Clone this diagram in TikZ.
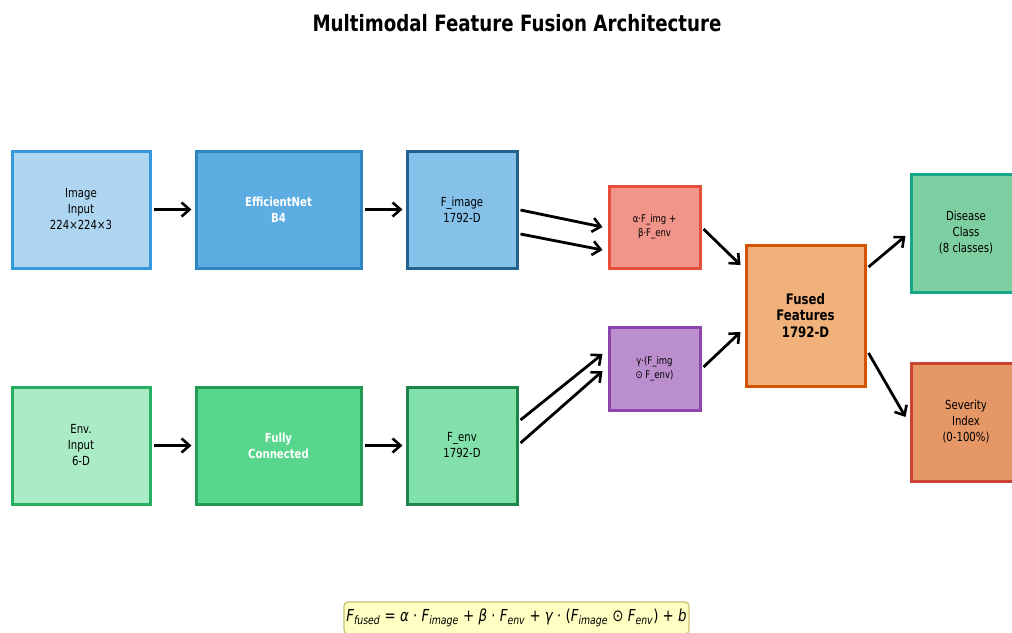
\documentclass[tikz,border=0pt]{standalone}
\usepackage{fontspec}
\setmainfont{DejaVu Sans}[FakeStretch=0.81]
\usetikzlibrary{arrows.meta,calc}

\definecolor{imgfill}{HTML}{AED6F1}\definecolor{imgline}{HTML}{3498DB}
\definecolor{efffill}{HTML}{5DADE2}\definecolor{effline}{HTML}{2E86C1}
\definecolor{fimgfill}{HTML}{85C1E9}\definecolor{fimgline}{HTML}{21618C}
\definecolor{envfill}{HTML}{ABEBC6}\definecolor{envline}{HTML}{27AE60}
\definecolor{fcfill}{HTML}{58D68D}\definecolor{fcline}{HTML}{239B56}
\definecolor{fenvfill}{HTML}{82E0AA}\definecolor{fenvline}{HTML}{1E8449}
\definecolor{addfill}{HTML}{F1948A}\definecolor{addline}{HTML}{E74C3C}
\definecolor{mulfill}{HTML}{BB8FCE}\definecolor{mulline}{HTML}{8E44AD}
\definecolor{fusefill}{HTML}{F0B27A}\definecolor{fuseline}{HTML}{D35400}
\definecolor{disfill}{HTML}{7DCEA0}\definecolor{disline}{HTML}{17A589}
\definecolor{sevfill}{HTML}{E59866}\definecolor{sevline}{HTML}{CB4335}
\definecolor{eqfill}{HTML}{FFFFC4}\definecolor{eqline}{HTML}{C8C070}

\tikzset{
  block/.style={draw, rectangle, line width=3pt, align=center,
    font=\fontsize{12.5}{16}\selectfont, inner sep=0pt},
  smallblock/.style={block, font=\fontsize{10.5}{14}\selectfont},
  whitebold/.style={text=white, font=\fontsize{12.5}{16}\selectfont\bfseries},
  flow/.style={-{Straight Barb[length=8pt,width=14pt,line width=2.6pt]},
    line width=2.8pt, black},
}

\begin{document}
\begin{tikzpicture}[x=1pt,y=-1pt]
\clip (0,0) rectangle (1012,632);
\useasboundingbox (0,0) rectangle (1012,632);
\fill[white] (0,0) rectangle (1012,632);

\node[font=\fontsize{22.5}{26}\selectfont\bfseries] (title) at (517,23)
  {Multimodal Feature Fusion Architecture};

% image branch
\node[block, fill=imgfill, draw=imgline, minimum width=138pt, minimum height=117pt]
  (img) at (81,209.5) {Image\\Input\\224×224×3};
\node[block, whitebold, fill=efffill, draw=effline, minimum width=165pt, minimum height=117pt]
  (eff) at (278.5,209.5) {EfficientNet\\B4};
\node[block, fill=fimgfill, draw=fimgline, minimum width=110pt, minimum height=117pt]
  (fimg) at (462,209.5) {F\_image\\1792-D};

% environment branch
\node[block, fill=envfill, draw=envline, minimum width=138pt, minimum height=117pt]
  (env) at (81,445.5) {Env.\\Input\\6-D};
\node[block, whitebold, fill=fcfill, draw=fcline, minimum width=165pt, minimum height=117pt]
  (fc) at (278.5,445.5) {Fully\\Connected};
\node[block, fill=fenvfill, draw=fenvline, minimum width=110pt, minimum height=117pt]
  (fenv) at (462,445.5) {F\_env\\1792-D};

% fusion terms
\node[smallblock, fill=addfill, draw=addline, minimum width=91pt, minimum height=82pt]
  (add) at (654.5,227) {α·F\_img +\\β·F\_env};
\node[smallblock, fill=mulfill, draw=mulline, minimum width=91pt, minimum height=83pt]
  (mul) at (654.5,368.5) {γ·(F\_img\\⊙ F\_env)};

\node[block, fill=fusefill, draw=fuseline, minimum width=119pt, minimum height=141pt,
  font=\fontsize{14.5}{16.5}\selectfont\bfseries]
  (fused) at (805.5,315.5) {Fused\\Features\\1792-D};

% outputs
\node[block, fill=disfill, draw=disline, minimum width=110pt, minimum height=118pt]
  (dis) at (966,233) {Disease\\Class\\(8 classes)};
\node[block, fill=sevfill, draw=sevline, minimum width=110pt, minimum height=118pt]
  (sev) at (966,422) {Severity\\Index\\(0-100\%)};

% connectors
\draw[flow] ($(img.east)+(2,0)$) -- ($(eff.west)+(-3,0)$);
\draw[flow] ($(eff.east)+(2,0)$) -- ($(fimg.west)+(-3,0)$);
\draw[flow] ($(env.east)+(2,0)$) -- ($(fc.west)+(-3,0)$);
\draw[flow] ($(fc.east)+(2,0)$) -- ($(fenv.west)+(-3,0)$);

\draw[flow] ($(fimg.east)+(2,0.5)$) -- ($(add.west)+(-5,0)$);
\draw[flow] ($(fimg.east)+(2,24.5)$) -- ($(add.west)+(-5,23)$);
\draw[flow] ($(fenv.east)+(2,-25.5)$) -- ($(mul.west)+(-5,-14.5)$);
\draw[flow] ($(fenv.east)+(2,-2.5)$) -- ($(mul.west)+(-5,2.5)$);

\draw[flow] ($(add.east)+(2,2)$) -- ($(fused.west)+(-4,-50.5)$);
\draw[flow] ($(mul.east)+(2,-1.5)$) -- ($(fused.west)+(-4,16.5)$);

\draw[flow] ($(fused.east)+(2,-48.5)$) -- ($(dis.west)+(-4,3)$);
\draw[flow] ($(fused.east)+(2,37.5)$) -- ($(sev.west)+(-4,-5)$);

% fusion equation
\node[draw=eqline, fill=eqfill, line width=1.2pt, rounded corners=4pt,
  minimum width=345pt, minimum height=32pt, inner sep=2pt,
  font=\fontsize{16.5}{20}\selectfont] (eq) at (516.5,618)
  {\itshape F\textsubscript{fused}\upshape{} = \itshape α\upshape{} · \itshape F\textsubscript{image}\upshape{} + \itshape β\upshape{} · \itshape F\textsubscript{env}\upshape{} + \itshape γ\upshape{} · (\itshape F\textsubscript{image}\upshape{} ⊙ \itshape F\textsubscript{env}\upshape) + \itshape b};
\end{tikzpicture}
\end{document}
